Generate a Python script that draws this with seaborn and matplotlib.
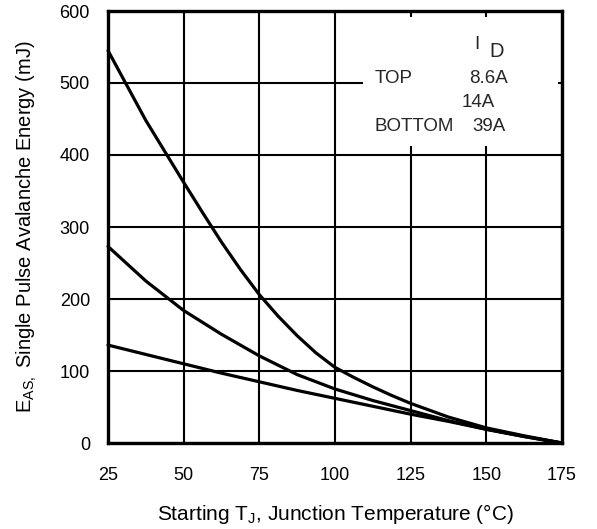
import matplotlib
matplotlib.use("Agg")
import matplotlib.pyplot as plt
from matplotlib.patches import Rectangle
import seaborn as sns
import pandas as pd

# ---- data ----
temps_8p6A = [25, 37.5, 50, 56.25, 62.5, 68.75, 75, 81.25, 87.5, 93.75, 100,
              106.25, 112.5, 118.75, 125, 137.5, 150, 162.5, 175]
e_8p6A = [545, 448, 362, 320, 279, 241, 206, 176, 149, 125, 105,
          91, 78, 66, 55, 36, 21, 10, 0]
temps = [25, 37.5, 50, 62.5, 75, 87.5, 100, 112.5, 125, 137.5, 150, 162.5, 175]
e_14A = [273, 225, 184, 151, 121, 95, 75, 59, 45, 31, 19, 9, 0]
e_39A = [136, 123, 110, 97, 85, 73, 62, 51, 40, 30, 19, 9, 0]
series_names = ["8.6A", "14A", "39A"]
x_ticks = [25, 50, 75, 100, 125, 150, 175]
y_ticks = [0, 100, 200, 300, 400, 500, 600]

df = pd.concat([
    pd.DataFrame({"T": t, "E": vals, "ID": name})
    for name, t, vals in zip(series_names,
                             [temps_8p6A, temps, temps],
                             [e_8p6A, e_14A, e_39A])
])

sns.set_style("white")
plt.rcParams["font.family"] = ["Liberation Sans", "DejaVu Sans"]
plt.rcParams["mathtext.fontset"] = "custom"
plt.rcParams["mathtext.rm"] = "Liberation Sans"

fig = plt.figure(figsize=(5.97, 5.29), dpi=100)
ax = fig.add_axes([108 / 597, 86 / 529, 454 / 597, 432 / 529])

sns.lineplot(data=df, x="T", y="E", hue="ID", palette=["black"] * 3,
             linewidth=2.3, legend=False, ax=ax, zorder=5, clip_on=False,
             sort=True)

ax.set_xlim(25, 175)
ax.set_ylim(0, 600)
ax.set_xticks(x_ticks)
ax.set_yticks(y_ticks)
ax.grid(True, color="black", linewidth=1.5)
ax.set_axisbelow(True)
for s in ax.spines.values():
    s.set_visible(True)
    s.set_color("black")
    s.set_linewidth(2.4)

ax.tick_params(axis="both", length=0, labelsize=13, colors="black")
ax.tick_params(axis="y", pad=13)
ax.tick_params(axis="x", pad=17)

ax.set_xlabel(r"Starting $\mathregular{T_J}$, Junction Temperature (°C)",
              fontsize=15, color="black")
ax.set_ylabel(r"$\mathregular{E_{AS,}}$ Single Pulse Avalanche Energy (mJ)",
              fontsize=14.5, color="black")
ax.xaxis.set_label_coords(0.5, -0.137)
ax.yaxis.set_label_coords(-0.152, 0.5)

# legend box (white background hiding the grid)
ax.add_patch(Rectangle((0.562, 0.6875), 0.429, 0.2985, transform=ax.transAxes,
                       facecolor="white", edgecolor="none", zorder=3))
fs = 13.5
ax.text(0.813, 0.912, "I", transform=ax.transAxes, ha="center", va="baseline", fontsize=fs, zorder=6)
ax.text(0.855, 0.894, "D", transform=ax.transAxes, ha="center", va="baseline", fontsize=fs + 1, zorder=6)
ax.text(0.588, 0.833, "TOP", transform=ax.transAxes, ha="left", va="baseline", fontsize=fs, zorder=6)
ax.text(0.795, 0.833, "8.6A", transform=ax.transAxes, ha="left", va="baseline", fontsize=fs, zorder=6)
ax.text(0.780, 0.778, "14A", transform=ax.transAxes, ha="left", va="baseline", fontsize=fs, zorder=6)
ax.text(0.588, 0.722, "BOTTOM", transform=ax.transAxes, ha="left", va="baseline", fontsize=fs, zorder=6)
ax.text(0.802, 0.722, "39A", transform=ax.transAxes, ha="left", va="baseline", fontsize=fs, zorder=6)

fig.savefig("out.png", dpi=100)
